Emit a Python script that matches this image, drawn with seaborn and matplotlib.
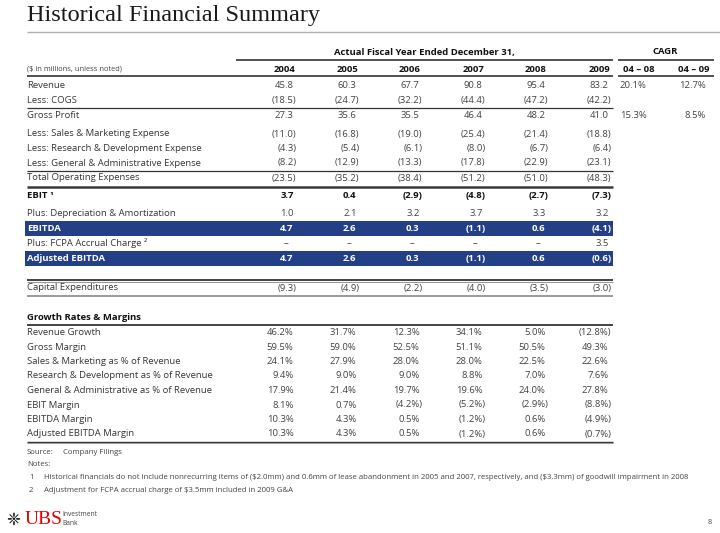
import matplotlib
matplotlib.use("Agg")
import matplotlib.pyplot as plt
from matplotlib.patches import Rectangle
import seaborn as sns

# ---------------- data ----------------
years = ["2004", "2005", "2006", "2007", "2008", "2009"]
cagr_labels = ["04 – 08", "04 – 09"]

revenue = [45.8, 60.3, 67.7, 90.8, 95.4, 83.2]
cogs = [-18.5, -24.7, -32.2, -44.4, -47.2, -42.2]
gross_profit = [27.3, 35.6, 35.5, 46.4, 48.2, 41.0]
sales_marketing = [-11.0, -16.8, -19.0, -25.4, -21.4, -18.8]
research_dev = [-4.3, -5.4, -6.1, -8.0, -6.7, -6.4]
general_admin = [-8.2, -12.9, -13.3, -17.8, -22.9, -23.1]
total_opex = [-23.5, -35.2, -38.4, -51.2, -51.0, -48.3]
ebit = [3.7, 0.4, -2.9, -4.8, -2.7, -7.3]
dep_amort = [1.0, 2.1, 3.2, 3.7, 3.3, 3.2]
ebitda = [4.7, 2.6, 0.3, -1.1, 0.6, -4.1]
fcpa_charge = [None, None, None, None, None, 3.5]
adj_ebitda = [4.7, 2.6, 0.3, -1.1, 0.6, -0.6]
capex = [-9.3, -4.9, -2.2, -4.0, -3.5, -3.0]

revenue_cagr = [20.1, 12.7]
gross_profit_cagr = [15.3, 8.5]

revenue_growth = [46.2, 31.7, 12.3, 34.1, 5.0, -12.8]
gross_margin = [59.5, 59.0, 52.5, 51.1, 50.5, 49.3]
sm_pct = [24.1, 27.9, 28.0, 28.0, 22.5, 22.6]
rd_pct = [9.4, 9.0, 9.0, 8.8, 7.0, 7.6]
ga_pct = [17.9, 21.4, 19.7, 19.6, 24.0, 27.8]
ebit_margin = [8.1, 0.7, -4.2, -5.2, -2.9, -8.8]
ebitda_margin = [10.3, 4.3, 0.5, -1.2, 0.6, -4.9]
adj_ebitda_margin = [10.3, 4.3, 0.5, -1.2, 0.6, -0.7]

title = "Historical Financial Summary"
source_text = "Company Filings"
note1 = ("Historical financials do not include nonrecurring items of (\\$2.0mm) and 0.6mm of lease abandonment "
         "in 2005 and 2007, respectively, and (\\$3.3mm) of goodwill impairment in 2008")
note2 = "Adjustment for FCPA accrual charge of \\$3.5mm included in 2009 G&A"

# ---------------- style ----------------
sns.set_theme(style="white")
plt.rcParams["font.family"] = ["Open Sans", "DejaVu Sans"]

BLUE = "#233f86"
TXT = "#363636"
NUM = "#434343"
FS = 6.8

fig = plt.figure(figsize=(7.2, 5.33), dpi=100)
ax = fig.add_axes([0, 0, 1, 1])
ax.set_xlim(0, 720)
ax.set_ylim(533, 0)
ax.axis("off")

col_x = [295, 358, 421, 484, 547, 610]
cagr_x = [648, 707]
LX = 27
RX = 613


def fmt(v, pct=False):
    if v is None:
        return "–"
    s = f"{abs(v):.1f}" + ("%" if pct else "")
    return f"({s})" if v < 0 else s


def draw_vals(vals, y, xs, pct=False, color=NUM, weight="normal"):
    for v, x in zip(vals, xs):
        s = fmt(v, pct)
        if v is None:
            ax.text(x - 7, y, s, ha="right", va="center", fontsize=FS, color=color)
        elif v < 0:
            ax.text(x + 1.5, y, s, ha="right", va="center", fontsize=FS, color=color, fontweight=weight)
        else:
            ax.text(x - 1.5, y, s, ha="right", va="center", fontsize=FS, color=color, fontweight=weight)


def hline(y, x0=LX, x1=RX, color="#222222", lw=0.9):
    ax.plot([x0, x1], [y, y], color=color, lw=lw, solid_capstyle="butt")


# title
ax.text(27, 15, title, family=["Liberation Serif", "DejaVu Serif"], fontsize=17.5,
        color="#1a1a1a", ha="left", va="center")
hline(31.5, 27, 720, color="#b0b0b0", lw=1.0)

# headers
ax.text((236 + RX) / 2, 52, "Actual Fiscal Year Ended December 31,", ha="center", va="center",
        fontsize=FS, fontweight="bold", color="#111111")
ax.text(665, 52, "CAGR", ha="center", va="center", fontsize=FS, fontweight="bold", color="#111111")
hline(60, 236, RX, lw=1.1)
hline(60, 618, 714, lw=1.1)
ax.text(LX, 69, "($ in millions, unless noted)", ha="left", va="center", fontsize=5.4, color="#444444")
for yr, x in zip(years, col_x):
    ax.text(x, 69, yr, ha="right", va="center", fontsize=FS, fontweight="bold", color="#111111")
ax.text(639, 69, cagr_labels[0], ha="center", va="center", fontsize=FS, fontweight="bold", color="#111111")
ax.text(710, 69, cagr_labels[1], ha="right", va="center", fontsize=FS, fontweight="bold", color="#111111")
hline(76, LX, RX, lw=1.1)
hline(76, 618, 714, lw=1.1)

# main rows: label, values, y, style, cagr
rows = [
    ("Revenue", revenue, 85.5, "n", revenue_cagr),
    ("Less: COGS", cogs, 100.5, "n", None),
    ("Gross Profit", gross_profit, 116, "n", gross_profit_cagr),
    ("Less: Sales & Marketing Expense", sales_marketing, 134, "n", None),
    ("Less: Research & Development Expense", research_dev, 148.5, "n", None),
    ("Less: General & Administrative Expense", general_admin, 163, "n", None),
    ("Total Operating Expenses", total_opex, 178, "n", None),
    ("EBIT ¹", ebit, 195.5, "b", None),
    ("Plus: Depreciation & Amortization", dep_amort, 214, "n", None),
    ("EBITDA", ebitda, 228.5, "band", None),
    ("Plus: FCPA Accrual Charge ²", fcpa_charge, 243.5, "n", None),
    ("Adjusted EBITDA", adj_ebitda, 258.5, "band", None),
    ("Capital Expenditures", capex, 288, "n", None),
]

for label, vals, y, style, cg in rows:
    if style == "band":
        ax.add_patch(Rectangle((25, y - 7.2), RX - 25, 14.4, facecolor=BLUE, edgecolor="none"))
        ax.text(LX, y, label, ha="left", va="center", fontsize=FS, fontweight="bold", color="white")
        draw_vals(vals, y, col_x, color="white", weight="bold")
    elif style == "b":
        ax.text(LX, y, label, ha="left", va="center", fontsize=FS, fontweight="bold", color="#111111")
        draw_vals(vals, y, col_x, color="#111111", weight="bold")
    else:
        ax.text(LX, y, label, ha="left", va="center", fontsize=FS, color=TXT)
        draw_vals(vals, y, col_x)
    if cg is not None:
        draw_vals(cg, y, cagr_x, pct=True)

# separators
hline(108, lw=0.9, color="#333333")
hline(170.5, lw=0.9, color="#333333")
hline(186.5, lw=1.8, color="#3a3a3a")
hline(280, lw=1.2, color="#222222")
hline(281.5, lw=0.8, color="#999999")
hline(295.5, lw=1.4, color="#9a9a9a")

# growth & margins section
ax.text(LX, 318, "Growth Rates & Margins", ha="left", va="center", fontsize=FS, fontweight="bold",
        color="#111111")
hline(324.5, lw=1.1, color="#111111")

margin_rows = [
    ("Revenue Growth", revenue_growth),
    ("Gross Margin", gross_margin),
    ("Sales & Marketing as % of Revenue", sm_pct),
    ("Research & Development as % of Revenue", rd_pct),
    ("General & Administrative as % of Revenue", ga_pct),
    ("EBIT Margin", ebit_margin),
    ("EBITDA Margin", ebitda_margin),
    ("Adjusted EBITDA Margin", adj_ebitda_margin),
]
for i, (label, vals) in enumerate(margin_rows):
    y = 332.5 + i * 14.5
    ax.text(LX, y, label, ha="left", va="center", fontsize=FS, color=TXT)
    draw_vals(vals, y, col_x, pct=True)

hline(441.5, lw=1.0, color="#333333")
hline(442.8, lw=0.8, color="#9a9a9a")

# footer
FFS = 5.55
ax.text(LX, 453, "Source:", ha="left", va="center", fontsize=FFS, color="#444444")
ax.text(63, 453, source_text, ha="left", va="center", fontsize=FFS, color="#444444")
ax.text(LX, 465, "Notes:", ha="left", va="center", fontsize=FFS, color="#444444")
ax.text(29, 477.5, "1", ha="left", va="center", fontsize=FFS, color="#444444")
ax.text(44, 477.5, note1, ha="left", va="center", fontsize=FFS, color="#444444")
ax.text(29, 490, "2", ha="left", va="center", fontsize=FFS, color="#444444")
ax.text(44, 490, note2, ha="left", va="center", fontsize=FFS, color="#444444")

# logo
ax.text(13, 520, "❈", ha="center", va="center", fontsize=12, color="#111111", family="DejaVu Sans")
ax.text(25, 520, "UBS", ha="left", va="center", fontsize=14, color="#e60000",
        family=["Liberation Serif", "DejaVu Serif"])
ax.text(62, 515, "Investment", ha="left", va="center", fontsize=4.8, color="#444444")
ax.text(62, 523.5, "Bank", ha="left", va="center", fontsize=4.8, color="#444444")
ax.text(712, 523, "8", ha="right", va="center", fontsize=5.3, color="#444444")

fig.savefig("out.png", dpi=100)
